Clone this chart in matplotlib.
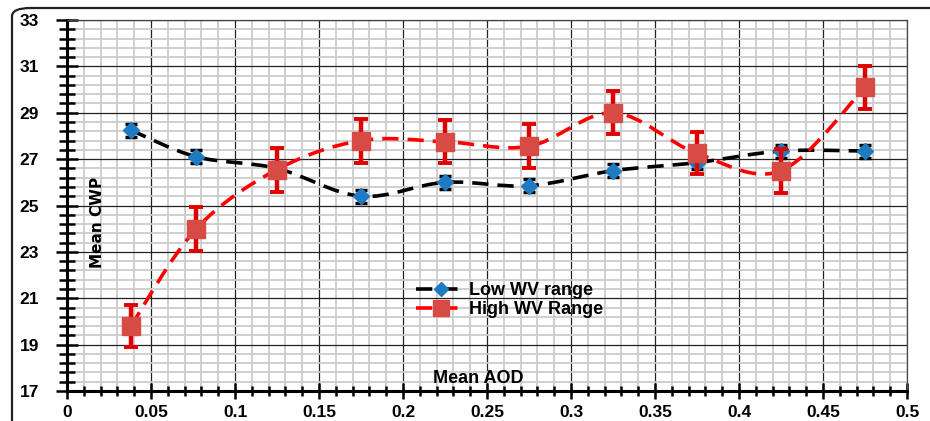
import numpy as np
import matplotlib.pyplot as plt
from matplotlib.path import Path
from matplotlib.patches import PathPatch, FancyBboxPatch
from matplotlib.lines import Line2D

plt.rcParams['font.family'] = ['Liberation Sans', 'DejaVu Sans']

# data
aod = [0.038, 0.077, 0.125, 0.175, 0.225, 0.275, 0.325, 0.375, 0.425, 0.475]
low_cwp = [28.25, 27.1, 26.6, 25.4, 26.0, 25.85, 26.5, 26.85, 27.35, 27.35]
low_err = [0.28, 0.28, 0.28, 0.28, 0.28, 0.28, 0.28, 0.28, 0.28, 0.28]
high_cwp = [19.8, 24.0, 26.55, 27.8, 27.75, 27.55, 29.0, 27.25, 26.5, 30.1]
high_err = [0.9, 0.95, 0.95, 0.95, 0.93, 0.95, 0.93, 0.9, 0.95, 0.92]
labels = ['Low WV range', 'High WV Range']
xticks = [0, 0.05, 0.1, 0.15, 0.2, 0.25, 0.3, 0.35, 0.4, 0.45, 0.5]
xticklabels = ['0', '0.05', '0.1', '0.15', '0.2', '0.25', '0.3', '0.35', '0.4', '0.45', '0.5']
yticks = [17, 19, 21, 23, 25, 27, 29, 31, 33]


def smooth_path(x, y):
    # Excel-style smoothed line: cubic bezier segments through the points
    x = np.asarray(x, float)
    y = np.asarray(y, float)
    verts = [(x[0], y[0])]
    codes = [Path.MOVETO]
    n = len(x)
    for i in range(n - 1):
        x0, y0 = (x[i - 1], y[i - 1]) if i > 0 else (x[i], y[i])
        x3, y3 = (x[i + 2], y[i + 2]) if i + 2 < n else (x[i + 1], y[i + 1])
        c1 = (x[i] + (x[i + 1] - x0) / 6, y[i] + (y[i + 1] - y0) / 6)
        c2 = (x[i + 1] - (x3 - x[i]) / 6, y[i + 1] - (y3 - y[i]) / 6)
        verts += [c1, c2, (x[i + 1], y[i + 1])]
        codes += [Path.CURVE4] * 3
    return Path(verts, codes)


fig = plt.figure(figsize=(9.3, 4.21), dpi=100)
ax = fig.add_axes([67 / 930, 30 / 421, 840 / 930, 371 / 421])

# rounded chart border (right and bottom edges run off the image)
border = FancyBboxPatch((12 / 930, -20 / 421), 940 / 930, 433 / 421,
                        boxstyle='round,pad=0,rounding_size=0.02',
                        transform=fig.transFigure, fill=False,
                        edgecolor='#222222', linewidth=1.6, clip_on=False)
fig.patches.append(border)

ax.set_xlim(0, 0.5)
ax.set_ylim(17, 33)
ax.set_xticks(xticks)
ax.set_xticklabels(xticklabels)
ax.set_xticks(np.arange(0, 0.5001, 0.01), minor=True)
ax.set_yticks(yticks)
ax.set_yticks(np.arange(17, 33.001, 0.4), minor=True)
ax.grid(which='minor', color='#cccccc', linewidth=1.3)
ax.grid(which='major', color='#222222', linewidth=0.9)
ax.set_axisbelow(True)

for s in ['top', 'right']:
    ax.spines[s].set_color('#444444')
    ax.spines[s].set_linewidth(0.9)
for s in ['left', 'bottom']:
    ax.spines[s].set_linewidth(2.2)

ax.tick_params(which='major', direction='inout', length=12, width=1.8, labelsize=12.5, pad=4)
ax.tick_params(which='minor', direction='inout', length=7, width=1.8)
ax.tick_params(axis='y', which='major', length=16, pad=12)
ax.tick_params(axis='y', which='minor', length=12)
for lab in ax.get_xticklabels() + ax.get_yticklabels():
    lab.set_fontweight('bold')

# smoothed dashed lines
dash = (0, (4.5, 2.5))
ax.add_patch(PathPatch(smooth_path(aod, low_cwp), fill=False, edgecolor='black',
                       linewidth=2.6, linestyle=dash, zorder=3))
ax.add_patch(PathPatch(smooth_path(aod, high_cwp), fill=False, edgecolor='#ff0000',
                       linewidth=2.6, linestyle=dash, zorder=3))

# error bars and markers
ax.errorbar(aod, low_cwp, yerr=low_err, fmt='none', ecolor='black',
            elinewidth=2.5, capsize=4, capthick=2.5, zorder=4)
ax.plot(aod, low_cwp, linestyle='none', marker='D', markersize=8,
        color='#1f7bc1', zorder=5)
ax.errorbar(aod, high_cwp, yerr=high_err, fmt='none', ecolor='#e00000',
            elinewidth=3.2, capsize=5, capthick=2.8, zorder=6)
ax.plot(aod, high_cwp, linestyle='none', marker='s', markersize=13,
        color='#d84b45', zorder=7)

handles = [
    Line2D([], [], color='black', linewidth=2.6, linestyle=dash,
           marker='D', markersize=7, markerfacecolor='#1f7bc1', markeredgecolor='#1f7bc1'),
    Line2D([], [], color='#ff0000', linewidth=2.6, linestyle=dash,
           marker='s', markersize=11, markerfacecolor='#d84b45', markeredgecolor='#d84b45'),
]
leg = ax.legend(handles, labels, loc='upper left', bbox_to_anchor=(0.405, 0.318),
                frameon=False, handlelength=2.7, handletextpad=0.2,
                labelspacing=0.1, borderpad=0, prop={'weight': 'bold', 'size': 13})

ax.text(0.49, 0.012, 'Mean AOD', transform=ax.transAxes, ha='center', va='bottom',
        fontsize=13, fontweight='bold')
ax.text(0.036, 0.455, 'Mean CWP', transform=ax.transAxes, ha='center', va='center',
        rotation=90, fontsize=11, fontweight='bold',
        family=['Liberation Sans Narrow', 'DejaVu Sans'])

fig.savefig('out.png', dpi=100)
